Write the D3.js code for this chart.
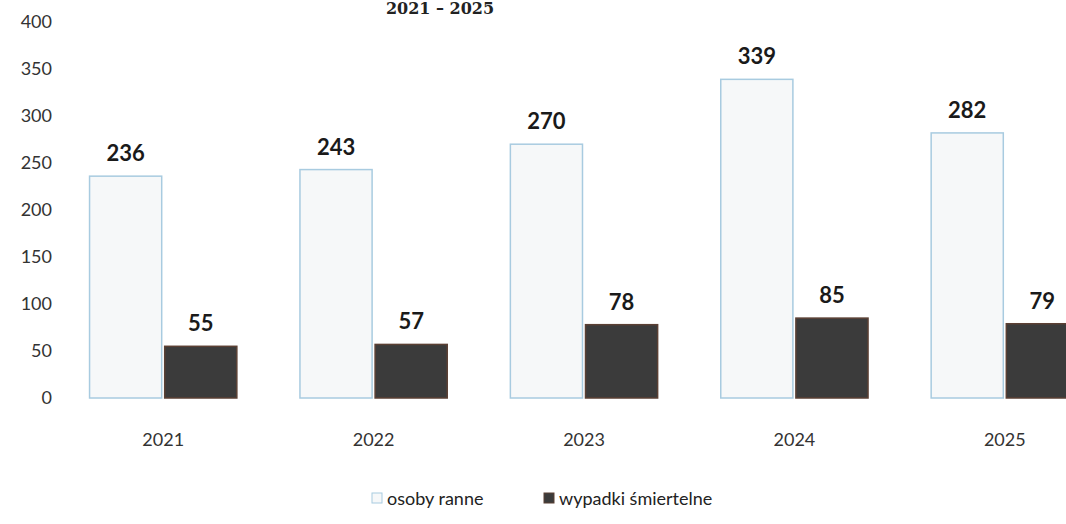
<!DOCTYPE html>
<html>
<head>
<meta charset="utf-8">
<script src="https://cdn.jsdelivr.net/npm/d3@7"></script>
<style>
  body { margin: 0; background: #fff; }
  svg { display: block; font-family: Lato, "Noto Sans", sans-serif; }
</style>
</head>
<body>
<svg id="chart"></svg>
<script>
// data
const years = ["2021", "2022", "2023", "2024", "2025"];
const series = ["osoby ranne", "wypadki śmiertelne"];
const injured = [236, 243, 270, 339, 282];
const fatal = [55, 57, 78, 85, 79];
const yTicks = [0, 50, 100, 150, 200, 250, 300, 350, 400];

const width = 1066, height = 524;
const margin = { top: 22, right: -44, bottom: 126, left: 58 };

const fills = { "osoby ranne": "#f6f8f9", "wypadki śmiertelne": "#3b3b3b" };
const strokes = { "osoby ranne": "#a8cbe0", "wypadki śmiertelne": "#5b4034" };

const rows = years.map((y, i) => ({ year: y, values: [injured[i], fatal[i]] }));

const svg = d3.select("#chart").attr("width", width).attr("height", height);

// scales
const x0 = d3.scaleBand()
  .domain(years)
  .range([margin.left, width - margin.right])
  .paddingInner(0.3)
  .paddingOuter(0.15);

const x1 = d3.scaleBand()
  .domain(series)
  .range([0, x0.bandwidth()])
  .paddingInner(0.04);

const y = d3.scaleLinear()
  .domain([0, 400])
  .range([height - margin.bottom, margin.top]);

// title (only the end of it is visible in the scan)
svg.append("text")
  .attr("x", 440)
  .attr("y", 14)
  .attr("text-anchor", "middle")
  .attr("font-family", "'DejaVu Serif', serif")
  .attr("font-weight", "bold")
  .attr("font-size", 16)
  .attr("fill", "#222")
  .text("2021 – 2025");

// y axis (labels only)
svg.append("g")
  .attr("transform", `translate(${margin.left - 6},0)`)
  .call(d3.axisLeft(y).tickValues(yTicks).tickSize(0).tickPadding(0))
  .call(g => g.select(".domain").remove())
  .call(g => g.selectAll("text")
    .attr("font-size", 18)
    .attr("fill", "#333")
    .attr("font-family", "Lato, 'Noto Sans', sans-serif"));

// bars
const group = svg.append("g")
  .selectAll("g")
  .data(rows)
  .join("g")
  .attr("transform", d => `translate(${x0(d.year)},0)`);

group.selectAll("rect")
  .data(d => d.values.map((v, i) => ({ key: series[i], value: v })))
  .join("rect")
  .attr("x", d => x1(d.key))
  .attr("y", d => y(d.value))
  .attr("width", x1.bandwidth())
  .attr("height", d => y(0) - y(d.value))
  .attr("fill", d => fills[d.key])
  .attr("stroke", d => strokes[d.key])
  .attr("stroke-width", 1.5);

group.selectAll("text.val")
  .data(d => d.values.map((v, i) => ({ key: series[i], value: v })))
  .join("text")
  .attr("class", "val")
  .attr("x", d => x1(d.key) + x1.bandwidth() / 2)
  .attr("y", d => y(d.value) - 15)
  .attr("text-anchor", "middle")
  .attr("font-size", 22)
  .attr("font-weight", "bold")
  .attr("fill", "#1a1a1a")
  .text(d => d.value);

// x axis labels
svg.append("g")
  .attr("transform", `translate(0,${y(0) + 30})`)
  .call(d3.axisBottom(x0).tickSize(0).tickPadding(0))
  .call(g => g.select(".domain").remove())
  .call(g => g.selectAll("text")
    .attr("dy", "1em")
    .attr("font-size", 18)
    .attr("fill", "#333")
    .attr("font-family", "Lato, 'Noto Sans', sans-serif"));

// legend
const legend = svg.append("g").attr("transform", "translate(372,505)");
const legendX = [0, 172];
series.forEach((s, i) => {
  const item = legend.append("g").attr("transform", `translate(${legendX[i]},0)`);
  item.append("rect")
    .attr("x", 0).attr("y", -12)
    .attr("width", 10).attr("height", 10)
    .attr("fill", fills[s])
    .attr("stroke", strokes[s]);
  item.append("text")
    .attr("x", 15)
    .attr("y", 0)
    .attr("font-size", 18)
    .attr("fill", "#222")
    .text(s);
});
</script>
</body>
</html>
